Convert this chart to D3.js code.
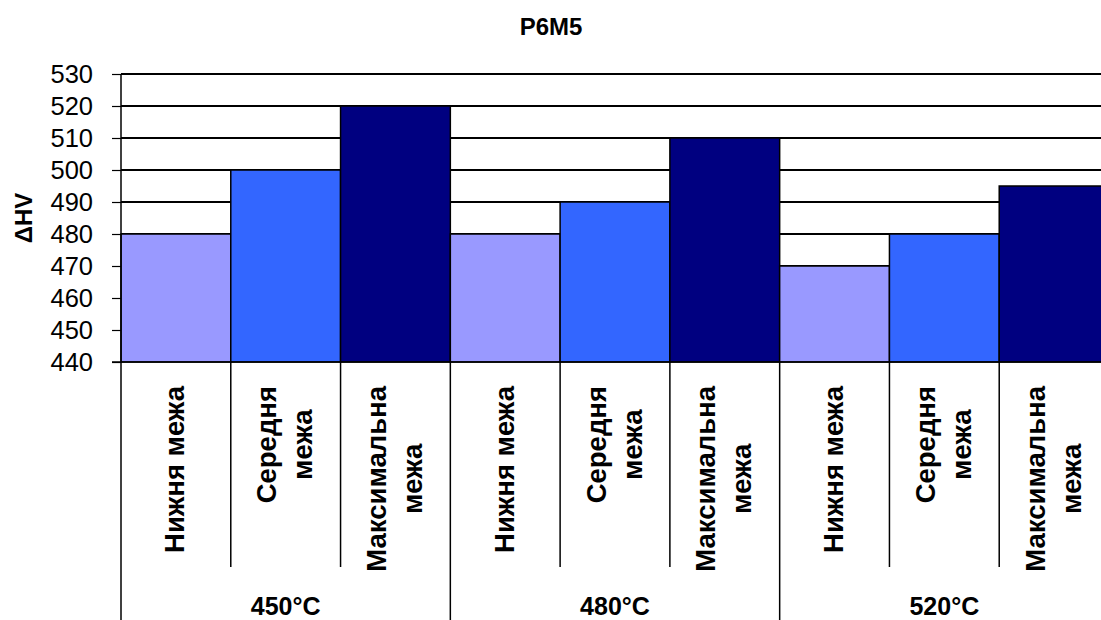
<!DOCTYPE html>
<html>
<head>
<meta charset="utf-8">
<script src="https://cdn.jsdelivr.net/npm/d3@7"></script>
<style>
  html, body { margin: 0; padding: 0; background: #fff; }
  svg { display: block; font-family: Arial, "Liberation Sans", sans-serif; }
</style>
</head>
<body>
<svg id="chart" width="1101" height="620"></svg>
<script>
// Tempering temperatures (outer category level)
const temperatures = ["450°C", "480°C", "520°C"];
// Hardness limits (inner category level), split into label lines
const limitLabels = [["Нижня межа"], ["Середня", "межа"], ["Максимальна", "межа"]];
const limitColors = ["#9999FF", "#3366FF", "#000080"];
// ΔHV values per limit, one per temperature
const lowerLimit = [480, 480, 470];
const middleLimit = [500, 490, 480];
const maxLimit = [520, 510, 495];
const yTicks = [440, 450, 460, 470, 480, 490, 500, 510, 520, 530];

const seriesValues = [lowerLimit, middleLimit, maxLimit];

const bars = [];
temperatures.forEach((t, gi) => {
  limitLabels.forEach((lbl, li) => {
    bars.push({ key: gi + "-" + li, group: gi, limit: li, value: seriesValues[li][gi], lines: lbl });
  });
});

const svg = d3.select("#chart");
const plotLeft = 121, plotRight = 1109, plotTop = 74, plotBottom = 362;

const x = d3.scaleBand().domain(bars.map(d => d.key)).range([plotLeft, plotRight]).padding(0);
const y = d3.scaleLinear().domain([440, 530]).range([plotBottom, plotTop]);

// Title
svg.append("text")
  .attr("x", 551).attr("y", 35)
  .attr("text-anchor", "middle")
  .attr("font-size", 24).attr("font-weight", "bold")
  .text("Р6М5");

// Horizontal gridlines
svg.append("g").selectAll("line")
  .data(yTicks.filter(v => v > 440))
  .join("line")
  .attr("x1", plotLeft).attr("x2", plotRight)
  .attr("y1", d => y(d)).attr("y2", d => y(d))
  .attr("stroke", "#000").attr("stroke-width", 1.2)
  .attr("shape-rendering", "crispEdges");

// Bars
svg.append("g").selectAll("rect")
  .data(bars)
  .join("rect")
  .attr("x", d => x(d.key))
  .attr("y", d => y(d.value))
  .attr("width", x.bandwidth())
  .attr("height", d => y(440) - y(d.value))
  .attr("fill", d => limitColors[d.limit])
  .attr("stroke", "#000").attr("stroke-width", 1.5);

// Y axis
const yAxis = d3.axisLeft(y).tickValues(yTicks).tickSize(9).tickPadding(19).tickFormat(d3.format("d"));
const yg = svg.append("g").attr("transform", `translate(${plotLeft},0)`).call(yAxis);
yg.select(".domain").remove();
yg.selectAll(".tick line").attr("stroke", "#000").attr("stroke-width", 1.2);
yg.selectAll(".tick text")
  .attr("font-size", 25.5).attr("fill", "#000")
  .attr("font-family", "Arial, 'Liberation Sans', sans-serif");

// Category axis line
svg.append("line")
  .attr("x1", plotLeft - 9).attr("x2", plotRight)
  .attr("y1", plotBottom).attr("y2", plotBottom)
  .attr("stroke", "#000").attr("stroke-width", 1.5);

// Category separators: inner ones short, group ones full height
const boundaries = d3.range(bars.length + 1);
svg.append("g").selectAll("line")
  .data(boundaries)
  .join("line")
  .attr("x1", i => i < bars.length ? x(bars[i].key) : plotRight)
  .attr("x2", i => i < bars.length ? x(bars[i].key) : plotRight)
  .attr("y1", i => i === 0 ? plotTop : plotBottom)
  .attr("y2", i => i % 3 === 0 ? 620 : 567)
  .attr("stroke", "#000").attr("stroke-width", 1.5);

// Inner category labels, rotated
const lineGap = 36, labelTop = 386, fs = 27.5;
const lab = svg.append("g").selectAll("g")
  .data(bars)
  .join("g")
  .attr("transform", d => `translate(${x(d.key) + x.bandwidth() / 2},${labelTop}) rotate(-90)`);
lab.each(function(d) {
  const g = d3.select(this);
  const n = d.lines.length;
  const texts = d.lines.map((ln, i) => g.append("text")
    .attr("font-size", fs).attr("font-weight", "bold")
    .attr("text-anchor", "middle")
    .attr("y", (i - (n - 1) / 2) * lineGap + 8.5)
    .text(ln));
  const maxLen = d3.max(texts, t => t.node().getComputedTextLength());
  texts.forEach(t => t.attr("x", -maxLen / 2));
});

// Group labels
svg.append("g").selectAll("text")
  .data(temperatures)
  .join("text")
  .attr("x", (t, gi) => (x(bars[gi * 3].key) + (gi < 2 ? x(bars[gi * 3 + 3].key) : plotRight)) / 2)
  .attr("y", 615)
  .attr("text-anchor", "middle")
  .attr("font-size", 25).attr("font-weight", "bold")
  .text(t => t);

// Y axis title
svg.append("text")
  .attr("transform", "translate(32,218) rotate(-90)")
  .attr("text-anchor", "middle")
  .attr("font-size", 24).attr("font-weight", "bold")
  .text("ΔHV");
</script>
</body>
</html>
